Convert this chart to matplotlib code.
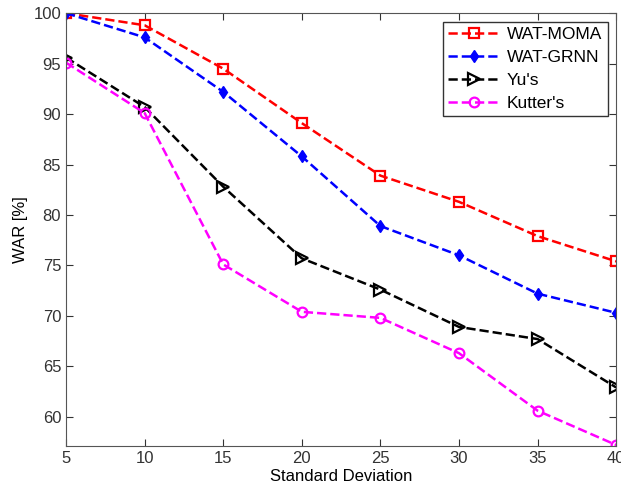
import matplotlib
matplotlib.use('Agg')
import matplotlib.pyplot as plt

plt.rcParams['font.family'] = ['Liberation Sans', 'DejaVu Sans']

std_dev = [5, 10, 15, 20, 25, 30, 35, 40]
war_moma = [100, 98.8, 94.5, 89.1, 83.9, 81.3, 77.9, 75.4]
war_grnn = [100, 97.6, 92.2, 85.8, 78.9, 76.0, 72.2, 70.3]
war_yu = [95.6, 90.7, 82.8, 75.7, 72.6, 68.9, 67.7, 62.9]
war_kutter = [95.1, 90.1, 75.1, 70.4, 69.8, 66.3, 60.6, 57.2]

fig = plt.figure(figsize=(6.21, 4.93), dpi=100)
ax = fig.add_axes([0.1063, 0.0953, 0.886, 0.878])

ax.plot(std_dev, war_moma, '--s', color='#ff0000', mfc='none', mec='#ff0000', ms=7, mew=1.6, lw=1.8, label='WAT-MOMA')
ax.plot(std_dev, war_grnn, '--d', color='#0000ff', mfc='#0000ff', ms=6, lw=1.8, label='WAT-GRNN')
ax.plot(std_dev, war_yu, '-->', color='black', mfc='none', ms=8, mew=1.6, lw=1.8, label="Yu's")
ax.plot(std_dev, war_kutter, '--o', color='#ff00ff', mfc='none', ms=7, mew=1.6, lw=1.8, label="Kutter's")

ax.set_xlim(5, 40)
ax.set_ylim(57.1, 100)
ax.set_xticks(range(5, 45, 5))
ax.set_yticks(range(60, 105, 5))
ax.tick_params(direction='in', top=True, right=True, labelsize=12, colors='#333333', length=5)
for s in ax.spines.values():
    s.set_color('#555555')
ax.set_xlabel('Standard Deviation', fontsize=12, labelpad=2)
ax.set_ylabel('WAR [%]', fontsize=12, labelpad=4)

# legend in the MATLAB box style
leg = ax.legend(loc='upper right', fontsize=12.5, fancybox=False, edgecolor='#333333',
                handlelength=3.0, handletextpad=0.4, borderpad=0.3, borderaxespad=0.5,
                labelspacing=0.45, framealpha=1, markerscale=1.0)
leg.get_frame().set_linewidth(1.0)

fig.savefig('out.png', dpi=100)
